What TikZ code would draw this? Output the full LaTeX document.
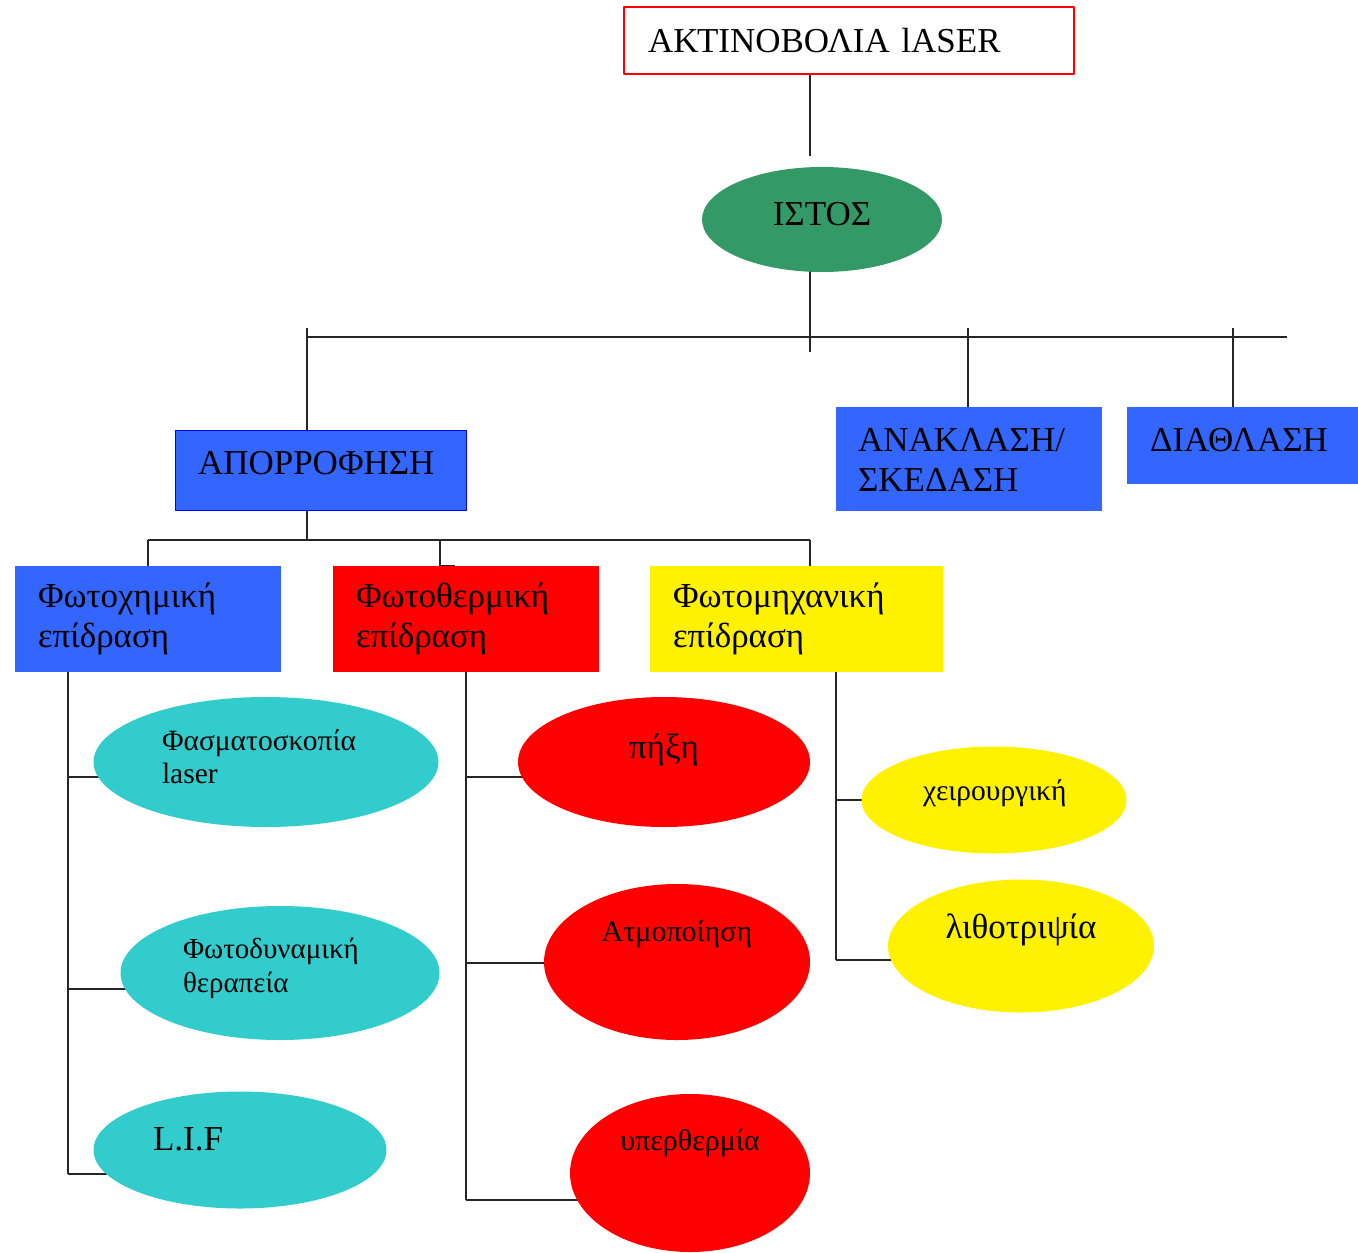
\documentclass[tikz,border=0pt]{standalone}
\usepackage{fontspec}
\setmainfont{Liberation Serif}
\usepackage{tikz}
\usetikzlibrary{shapes.geometric,backgrounds}

\definecolor{boxblue}{RGB}{51,102,255}
\definecolor{ovalcyan}{RGB}{51,204,204}
\definecolor{ovalgreen}{RGB}{51,153,102}

\begin{document}
\begin{tikzpicture}[x=1pt,y=-1pt,line join=round,
  box/.style={rectangle,inner xsep=23pt,inner ysep=0pt,align=left,
    font=\fontsize{35}{40}\selectfont},
  oval/.style={ellipse,inner sep=0pt,align=left},
  link/.style={line width=2pt,black!85}]
  \useasboundingbox (0,0) rectangle (1358,1253);
  % upper part
  \node[box,draw=red,line width=1.5pt,inner xsep=24pt,minimum width=450pt,minimum height=67pt,
    text width=402pt,text height=23pt,text depth=0pt] (laser) at (849,40.5) {ΑΚΤΙΝΟΒΟΛΙΑ lASER};
  \node[oval,fill=ovalgreen,minimum width=240pt,minimum height=105pt,text height=11pt,text depth=0pt,
    font=\fontsize{35}{40}\selectfont] (istos) at (822,219.5) {ΙΣΤΟΣ};
  \node[box,fill=boxblue,draw=blue,line width=1pt,minimum width=291pt,minimum height=80pt,
    text width=245pt,text height=8pt,text depth=0pt] (apor) at (320.5,470) {ΑΠΟΡΡΟΦΗΣΗ};
  \node[box,fill=boxblue,inner xsep=22pt,minimum width=266pt,minimum height=104pt,
    text width=222pt,text height=0pt,text depth=16pt] (anakl) at (969,459) {ΑΝΑΚΛΑΣΗ/\\ΣΚΕΔΑΣΗ};
  \node[box,fill=boxblue,minimum width=231pt,minimum height=77pt,
    text width=185pt,text height=11pt,text depth=0pt] (diath) at (1242.5,445.5) {ΔΙΑΘΛΑΣΗ};
  % effects
  \node[box,fill=boxblue,minimum width=266pt,minimum height=106pt,
    text width=220pt,text height=0pt,text depth=24pt] (fchem) at (148,619) {Φωτοχημική\\επίδραση};
  \node[box,fill=red,minimum width=266pt,minimum height=106pt,
    text width=220pt,text height=0pt,text depth=24pt] (ftherm) at (466,619) {Φωτοθερμική\\επίδραση};
  \node[box,fill=yellow,minimum width=293pt,minimum height=106pt,
    text width=247pt,text height=0pt,text depth=24pt] (fmech) at (796.5,619) {Φωτομηχανική\\επίδραση};
  % applications
  \node[oval,fill=ovalcyan,minimum width=345pt,minimum height=130pt,text width=208pt,
    text height=0pt,text depth=24pt,font=\fontsize{29.5}{33}\selectfont] (fasm) at (266,762) {Φασματοσκοπία\\laser};
  \node[oval,fill=ovalcyan,minimum width=319pt,minimum height=134pt,text width=194pt,
    text height=0pt,text depth=30pt,font=\fontsize{29}{34}\selectfont] (fdyn) at (280,973) {Φωτοδυναμική\\θεραπεία};
  \node[oval,fill=ovalcyan,minimum width=293pt,minimum height=117pt,text width=174pt,
    text height=0pt,text depth=0pt,font=\fontsize{35}{40}\selectfont] (lif) at (240,1150) {L.I.F};
  \node[oval,fill=red,minimum width=292pt,minimum height=130pt,
    text height=0pt,text depth=8pt,font=\fontsize{35}{40}\selectfont] (pixi) at (664,762) {πήξη};
  \node[oval,fill=red,minimum width=266pt,minimum height=156pt,
    text height=0pt,text depth=42pt,font=\fontsize{30}{34}\selectfont] (atmo) at (677,962) {Ατμοποίηση};
  \node[oval,fill=red,minimum width=240pt,minimum height=158pt,
    text height=0pt,text depth=46pt,font=\fontsize{30}{34}\selectfont] (yper) at (690,1173) {υπερθερμία};
  \node[oval,fill=yellow,minimum width=265pt,minimum height=107pt,text width=142pt,
    text height=0pt,text depth=0pt,font=\fontsize{29.5}{34}\selectfont] (xeir) at (994,800) {χειρουργική};
  \node[oval,fill=yellow,minimum width=266pt,minimum height=133pt,
    text height=0pt,text depth=16pt,font=\fontsize{35}{40}\selectfont] (litho) at (1021,946) {λιθοτριψία};
  % junctions
  \coordinate (t1) at (810,156);
  \coordinate (t2) at (810,352);
  \coordinate (busL) at (307,337);
  \coordinate (busR) at (1287,337);
  \coordinate (k1) at (307,328);
  \coordinate (k2) at (968,328);
  \coordinate (k3) at (1233,328);
  \coordinate (j0) at (307,540);
  \coordinate (jL) at (148,540);
  \coordinate (jM) at (440,540);
  \coordinate (jS) at (455,566);
  \coordinate (jR) at (810,540);
  \coordinate (a1) at (68,777);
  \coordinate (a2) at (68,989);
  \coordinate (a3) at (68,1174);
  \coordinate (m1) at (466,777);
  \coordinate (m2) at (466,963);
  \coordinate (m3) at (466,1200);
  \coordinate (r1) at (836,800);
  \coordinate (r2) at (836,960);
  \begin{pgfonlayer}{background}
    \draw[link] (laser.south -| t1) -- (t1);
    \draw[link] (t2 |- istos.center) -- (t2);
    \draw[link] (busL) -- (busR);
    \draw[link] (k1) -- (k1 |- apor.north);
    \draw[link] (k2) -- (k2 |- anakl.north);
    \draw[link] (k3) -- (k3 |- diath.north);
    \draw[link] (j0 |- apor.south) -- (j0);
    \draw[link] (jL) -- (jR);
    \draw[link] (jL) -- (jL |- fchem.north);
    \draw[link] (jM) |- (jS);
    \draw[link] (jR) -- (jR |- fmech.north);
    \draw[link] (a1 |- fchem.south) -- (a3);
    \foreach \c/\e in {a1/fasm,a2/fdyn,a3/lif,m1/pixi,m2/atmo,m3/yper,r1/xeir,r2/litho}
      \draw[link] (\c) -- (\c -| \e.center);
    \draw[link] (ftherm.south) -- (m3);
    \draw[link] (r1 |- fmech.south) -- (r2);
  \end{pgfonlayer}
\end{tikzpicture}
\end{document}
